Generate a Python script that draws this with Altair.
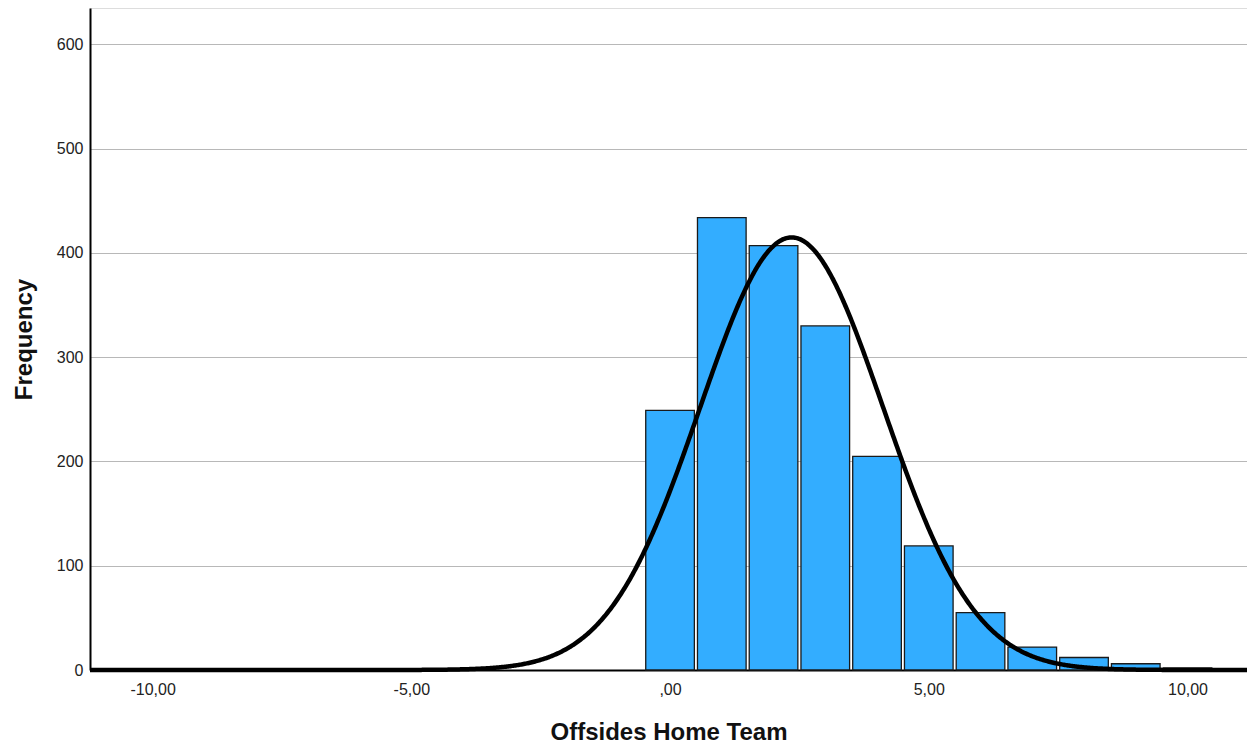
import altair as alt
import pandas as pd

# Histogram data
bin_centers = [0, 1, 2, 3, 4, 5, 6, 7, 8, 9, 10]
frequencies = [249, 434, 407, 330, 205, 119, 55, 22, 12, 6, 2]

# Fitted normal curve parameters
fit_mean = 2.35
fit_sd = 1.77
n_total = sum(frequencies)
bin_width = 1.0

x_ticks = [-10, -5, 0, 5, 10]
y_ticks = [0, 100, 200, 300, 400, 500, 600]

df = pd.DataFrame({"center": bin_centers, "freq": frequencies})

x_scale = alt.Scale(domain=[-11.21, 11.15], nice=False, zero=False)
y_scale = alt.Scale(domain=[0, 635], nice=False)

x_axis = alt.Axis(
    values=x_ticks,
    labelExpr="datum.value == 0 ? ',00' : (datum.value < 0 ? '-' : '') + replace(format(abs(datum.value), '.2f'), '.', ',')",
    grid=False, ticks=False,
    domainColor="black", domainWidth=2,
    labelFontSize=16, labelColor="#222222", labelPadding=11,
    title="Offsides Home Team", titleFontSize=24, titleFontWeight="bold",
    titleColor="#111111", titlePadding=23,
)
y_axis = alt.Axis(
    values=y_ticks, grid=True, gridColor="#b8b8b8", gridWidth=1,
    ticks=False, domainColor="black", domainWidth=2,
    labelFontSize=16, labelColor="#222222", labelPadding=7,
    title="Frequency", titleFontSize=24, titleFontWeight="bold",
    titleColor="#111111", titlePadding=20,
)

bars = alt.Chart(df).transform_calculate(
    x0=f"datum.center - {bin_width}/2 + 0.03",
    x1=f"datum.center + {bin_width}/2 - 0.03",
).mark_rect(fill="#33adff", stroke="#1a1a1a", strokeWidth=1.3).encode(
    x=alt.X("x0:Q", scale=x_scale, axis=x_axis),
    x2="x1:Q",
    y=alt.Y("freq:Q", scale=y_scale, axis=y_axis),
    y2=alt.datum(0),
)

curve = alt.Chart(alt.sequence(-11.21, 11.16, 0.02, as_="x")).transform_calculate(
    y=f"{n_total}*{bin_width}/({fit_sd}*sqrt(2*PI))*exp(-0.5*pow((datum.x-{fit_mean})/{fit_sd},2))"
).mark_line(color="black", strokeWidth=4.5).encode(
    x=alt.X("x:Q", scale=x_scale),
    y=alt.Y("y:Q", scale=y_scale),
)

chart = alt.layer(bars, curve).properties(
    width=1157, height=662,
    autosize=alt.AutoSizeParams(type="none"),
    padding={"left": 82, "top": 0, "right": 0, "bottom": 77},
).configure_view(stroke=None).configure(font="Liberation Sans", background="white")

chart.save("out.html", embed_options={"renderer": "svg", "actions": False})
